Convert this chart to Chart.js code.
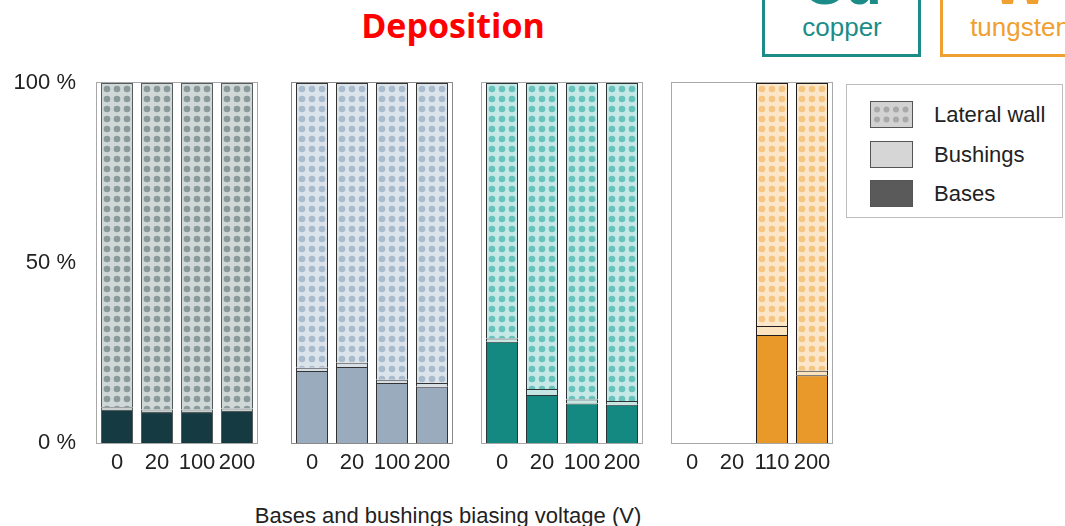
<!DOCTYPE html>
<html>
<head>
<meta charset="utf-8">
<script src="https://cdn.jsdelivr.net/npm/chart.js@4.4.1/dist/chart.umd.min.js"></script>
<style>
  html, body { margin: 0; padding: 0; background: #ffffff; }
  #page { position: relative; width: 1065px; height: 526px; overflow: hidden; background: #ffffff;
          font-family: "Liberation Sans", Arial, sans-serif; color: #222; }
  .abs { position: absolute; }
  canvas.panel { position: absolute; }
  #title { left: 0; width: 906px; top: 2px; text-align: center; font-family: "Open Sans", sans-serif;
           font-weight: 700; font-size: 34px; color: #ff0000; line-height: 46px; }
  .elbox { position: absolute; top: -60px; height: 111px; border: 3px solid; box-sizing: content-box; }
  .elsym { position: absolute; width: 160px; text-align: center; font-weight: 700; font-size: 60px; line-height: 60px; top: -46px; }
  .elname { position: absolute; width: 160px; text-align: center; font-size: 26px; line-height: 30px; top: 12px; }
  #legend { left: 846px; top: 84px; width: 215px; height: 132px; border: 1px solid #bdbdbd; background: #fff; }
  .lg-row { position: absolute; left: 23px; height: 27px; }
  .lg-row canvas { position: absolute; left: 0; top: 0; }
  .lg-row span { position: absolute; left: 64px; top: 0; font-size: 22px; line-height: 27px; white-space: nowrap; color: #222; }
  #xtitle { left: 0; width: 896px; top: 503px; text-align: center; font-size: 22px; line-height: 26px; color: #222; }
</style>
</head>
<body>
<div id="page">
  <div id="title" class="abs">Deposition</div>

  <div class="elbox" style="left:762px; width:153px; border-color:#1b8c87;"></div>
  <div class="elsym" style="left:762px; color:#1b8c87;">Cu</div>
  <div class="elname" style="left:762px; color:#1b8c87;">copper</div>

  <div class="elbox" style="left:940px; width:170px; border-color:#f0a030;"></div>
  <div class="elsym" style="left:940px; color:#f0a030;">W</div>
  <div class="elname" style="left:940px; color:#f0a030;">tungsten</div>

  <canvas id="p1" class="panel"></canvas>
  <canvas id="p2" class="panel"></canvas>
  <canvas id="p3" class="panel"></canvas>
  <canvas id="p4" class="panel"></canvas>

  <div id="legend" class="abs">
    <div class="lg-row" style="top:16px;"><canvas id="lg-wall" width="43" height="27"></canvas><span>Lateral wall</span></div>
    <div class="lg-row" style="top:56px;"><canvas id="lg-bush" width="43" height="27"></canvas><span>Bushings</span></div>
    <div class="lg-row" style="top:95px;"><canvas id="lg-base" width="43" height="27"></canvas><span>Bases</span></div>
  </div>

  <div id="xtitle" class="abs">Bases and bushings biasing voltage (V)</div>
</div>

<script>
// Biasing voltages (V) per panel
const voltagesA = ['0', '20', '100', '200'];
const voltagesB = ['0', '20', '100', '200'];
const voltagesC = ['0', '20', '100', '200'];
const voltagesW = ['0', '20', '110', '200'];

// Share of deposition (%) on each surface
const basesA    = [9.2, 8.6, 8.6, 8.9];
const bushingsA = [0.7, 0.7, 0.7, 0.7];
const wallA     = [90.1, 90.7, 90.7, 90.4];

const basesB    = [20.0, 21.1, 16.7, 15.6];
const bushingsB = [0.9, 1.2, 0.9, 1.1];
const wallB     = [79.1, 77.7, 82.4, 83.3];

const basesC    = [28.1, 13.3, 11.0, 10.6];
const bushingsC = [0.9, 1.7, 1.1, 1.1];
const wallC     = [71.0, 85.0, 87.9, 88.3];

const basesW    = [null, null, 30.0, 18.8];
const bushingsW = [null, null, 2.5, 1.3];
const wallW     = [null, null, 67.5, 79.9];

const yTicks = [0, 50, 100];

const FONT = { family: '"Liberation Sans", Arial, sans-serif', size: 22 };
const TEXT = '#222222';

// Panel frame geometry (chart area box on the page)
const FRAME_TOP = 83, FRAME_H = 360, FRAME_W = 160, PAD_TOP = 15, X_AXIS_H = 42;

function dotTile(bg, dot) {
  const c = document.createElement('canvas');
  c.width = 10; c.height = 10;
  const g = c.getContext('2d');
  g.fillStyle = bg; g.fillRect(0, 0, 10, 10);
  g.fillStyle = dot;
  g.beginPath(); g.arc(5, 5, 3.3, 0, Math.PI * 2); g.fill();
  return c;
}

// Dotted fill, phased so each bar gets three centred columns of dots
function dottedFill(bg, dot) {
  let cache = null;
  return function (ctx) {
    const area = ctx.chart.chartArea;
    if (!area) return bg;
    if (!cache) {
      const p = ctx.chart.ctx.createPattern(dotTile(bg, dot), 'repeat');
      p.setTransform(new DOMMatrix().translate(Math.round(area.left) + 5, Math.round(area.top) + 1));
      cache = p;
    }
    return cache;
  };
}

const framePlugin = {
  id: 'panelFrame',
  beforeDatasetsDraw(chart, args, opts) {
    const a = chart.chartArea, c = chart.ctx;
    c.save();
    c.strokeStyle = opts.color || '#a0a0a0';
    c.lineWidth = 1;
    c.strokeRect(Math.round(a.left) - 0.5, Math.round(a.top) - 0.5,
                 Math.round(a.right - a.left) + 1, Math.round(a.bottom - a.top) + 1);
    c.restore();
  }
};

function buildPanel(id, frameLeft, showY, labels, bases, bushings, wall, colors) {
  const el = document.getElementById(id);
  const padL = showY ? 0 : 4;
  const leftSpace = showY ? frameLeft : 4;
  const w = leftSpace + FRAME_W + 5;
  const h = PAD_TOP + FRAME_H + X_AXIS_H;
  el.width = w; el.height = h;
  el.style.width = w + 'px'; el.style.height = h + 'px';
  el.style.left = (frameLeft - leftSpace) + 'px';
  el.style.top = (FRAME_TOP - PAD_TOP) + 'px';

  const common = { borderColor: colors.edge, borderWidth: 1, barPercentage: 0.8, categoryPercentage: 1.0 };

  return new Chart(el, {
    type: 'bar',
    data: {
      labels: labels,
      datasets: [
        Object.assign({ label: 'Bases', data: bases, backgroundColor: colors.base }, common),
        Object.assign({ label: 'Bushings', data: bushings, backgroundColor: colors.bush }, common),
        Object.assign({ label: 'Lateral wall', data: wall, backgroundColor: dottedFill(colors.wallBg, colors.wallDot) }, common)
      ]
    },
    options: {
      responsive: false,
      animation: false,
      devicePixelRatio: 1,
      layout: { padding: { top: PAD_TOP, left: padL, right: 5, bottom: 0 } },
      plugins: {
        legend: { display: false },
        tooltip: { enabled: false },
        panelFrame: { color: colors.frame }
      },
      scales: {
        x: {
          stacked: true,
          grid: { display: false, drawTicks: false },
          border: { display: false },
          ticks: { font: FONT, color: TEXT, padding: 7, maxRotation: 0 },
          afterFit(s) { s.height = X_AXIS_H; s.paddingLeft = 0; s.paddingRight = 0; }
        },
        y: {
          stacked: true,
          display: showY,
          min: 0, max: 100,
          grid: { display: false, drawTicks: false },
          border: { display: false },
          afterBuildTicks(s) { s.ticks = yTicks.map(v => ({ value: v })); },
          ticks: { font: FONT, color: TEXT, padding: 21, callback: v => v + ' %' },
          afterFit(s) {
            if (showY) { s.width = frameLeft; }
            s.paddingTop = 0; s.paddingBottom = 0;
          }
        }
      }
    },
    plugins: [framePlugin]
  });
}

buildPanel('p1', 97, true, voltagesA, basesA, bushingsA, wallA, {
  base: '#163a42', bush: '#c9d0d0', wallBg: '#cfd7d7', wallDot: '#8a9a9b', edge: '#555c5c', frame: '#a8a8a8'
});
buildPanel('p2', 292, false, voltagesB, basesB, bushingsB, wallB, {
  base: '#9aabbd', bush: '#d6dee6', wallBg: '#dbe3eb', wallDot: '#a9bccd', edge: '#333333', frame: '#8a8a8a'
});
buildPanel('p3', 482, false, voltagesC, basesC, bushingsC, wallC, {
  base: '#148981', bush: '#c6e6e4', wallBg: '#c6e8e6', wallDot: '#69c3bd', edge: '#2e3535', frame: '#a8a8a8'
});
buildPanel('p4', 672, false, voltagesW, basesW, bushingsW, wallW, {
  base: '#e8992a', bush: '#fbe3c0', wallBg: '#fce6c9', wallDot: '#f5c582', edge: '#1e1e1e', frame: '#a8a8a8'
});

// Legend swatches
(function () {
  function swatch(id, draw) {
    const g = document.getElementById(id).getContext('2d');
    draw(g);
    g.strokeStyle = '#555555'; g.lineWidth = 1;
    g.strokeRect(0.5, 0.5, 42, 26);
  }
  swatch('lg-wall', g => {
    g.fillStyle = '#d2d2d2'; g.fillRect(0, 0, 43, 27);
    g.fillStyle = '#a9a9a9';
    for (let r = 0; r < 2; r++) for (let c = 0; c < 4; c++) {
      g.beginPath(); g.arc(7 + c * 9.5, 8.5 + r * 10, 3, 0, Math.PI * 2); g.fill();
    }
  });
  swatch('lg-bush', g => { g.fillStyle = '#d6d6d6'; g.fillRect(0, 0, 43, 27); });
  swatch('lg-base', g => { g.fillStyle = '#5a5a5a'; g.fillRect(0, 0, 43, 27); });
})();
</script>
</body>
</html>
